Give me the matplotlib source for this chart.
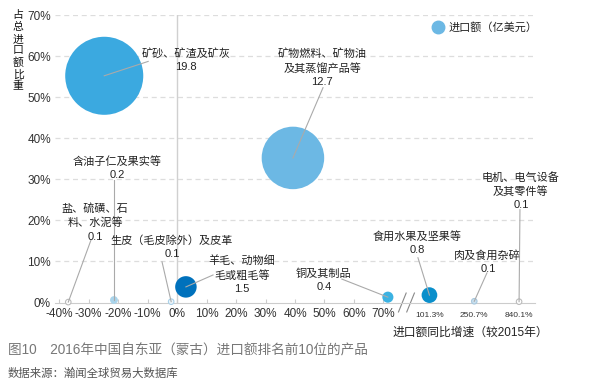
import numpy as np
import matplotlib.pyplot as plt
from matplotlib.lines import Line2D

plt.rcParams['font.family'] = ['Liberation Sans', 'Noto Sans CJK SC']

###data###
names = ['矿砂、矿渣及矿灰', '矿物燃料、矿物油\n及其蒸馏产品等', '含油子仁及果实等',
         '盐、硫磺、石\n料、水泥等', '生皮（毛皮除外）及皮革', '羊毛、动物细\n毛或粗毛等',
         '铜及其制品', '食用水果及坚果等', '肉及食用杂碎', '电机、电气设备\n及其零件等']
growth = [-24.7, 39.3, -21.4, -36.9, -2.0, 3.0, 71.5, 101.3, 250.7, 840.1]   # %
share = [55.2, 35.2, 0.6, 0.1, 0.2, 3.8, 1.3, 1.8, 0.3, 0.2]                  # %
value = [19.8, 12.7, 0.2, 0.1, 0.1, 1.5, 0.4, 0.8, 0.1, 0.1]                   # 亿美元

xticks = [-40, -30, -20, -10, 0, 10, 20, 30, 40, 50, 60, 70]
yticks = [0, 10, 20, 30, 40, 50, 60, 70]

###style###
face = ['#3BA9E0', '#6CB8E4', '#A9D4EB', '#FFFFFF', '#EEF6FB',
        '#0071BC', '#3BB2E2', '#0A8FCB', '#C9E0EF', '#FFFFFF']
edge = ['none', 'none', 'none', '#BBBBBB', '#A8D0E8',
        'none', 'none', 'none', '#A8C8DE', '#BBBBBB']
# label centre and leader end, in axis units
label_xy = [(3.0, 59.1), (49.2, 57.2), (-20.3, 32.8), (-27.8, 19.5), (-1.7, 13.4),
            (22.0, 6.8), (49.8, 5.4), (81.4, 14.4), (105.4, 9.9), (116.6, 27.1)]
lead_xy = [(-9.8, 58.7), (49.5, 52.3), (-21.4, 29.9), (-29.2, 15.2), (-5.1, 9.9),
           (12.2, 6.7), (55.9, 5.7), (81.7, 10.9), (105.1, 7.2), (116.3, 22.6)]

###broken x axis: values beyond the break go to equal slots###
brk = 78
slots = [85.6, 100.8, 116.0]
big = sorted(g for g in growth if g > brk)
xpos = np.array([g if g <= brk else slots[big.index(g)] for g in growth])

fig = plt.figure(figsize=(5.94, 3.86), dpi=100)
ax = fig.add_axes([55/594, 1-302.5/386, 480/594, 287.5/386])
ax.set_xlim(-41.4, 121.4)
ax.set_ylim(0, 70)

for y in yticks[1:]:
    ax.axhline(y, color='#DDDDDD', lw=0.9, ls=(0, (4, 3)), zorder=0)
ax.axvline(0, color='#D0D0D0', lw=1, zorder=0)

sizes = np.array(value) * 159.5
ax.scatter(xpos, share, s=sizes, c=face, edgecolors=edge, linewidths=0.8,
           zorder=3, clip_on=False)

for i in range(len(names)):
    lx, ly = lead_xy[i]
    ax.plot([xpos[i], lx], [share[i], ly], color='#AAAAAA', lw=0.8, zorder=4,
            clip_on=False)
    tx, ty = label_xy[i]
    ax.text(tx, ty, names[i] + '\n' + f'{value[i]}', ha='center', va='center',
            fontsize=8, color='#222222', linespacing=1.4, zorder=5)

# axes
for s in ['top', 'right', 'left']:
    ax.spines[s].set_visible(False)
ax.spines['bottom'].set_color('#CCCCCC')
ax.set_yticks(yticks)
ax.set_yticklabels([f'{y}%' for y in yticks], fontsize=8.5, color='#333333')
ax.tick_params(axis='y', length=0, pad=3)
ax.set_xticks(xticks + slots)
ax.set_xticklabels([f'{x}%' for x in xticks] + [f'{g}%' for g in big], fontsize=8.5,
                   color='#333333')
for lab in ax.get_xticklabels()[len(xticks):]:
    lab.set_fontsize(6)
    lab.set_y(-0.015)
ax.tick_params(axis='x', direction='in', length=3, color='#CCCCCC', pad=4)

# break mark
for dx in [76.4, 79.2]:
    ax.plot([dx - 1.3, dx + 1.3], [-2.3, 2.3], color='#888888', lw=0.8, clip_on=False)

# legend
fig.add_artist(Line2D([438/594], [1-27/386], marker='o', markersize=9,
                      color='#6CB8E4', lw=0))
fig.text(449/594, 1-27/386, '进口额（亿美元）', fontsize=8, va='center', color='#222222')

fig.text(18/594, 1-51/386, '\n'.join('占总进口额比重'), fontsize=7.8, ha='center',
         va='center', linespacing=1.2, color='#111111')
fig.text(470/594, 1-333/386, '进口额同比增速（较2015年）', fontsize=8.5, ha='center',
         va='center', color='#222222')

fig.text(8/594, 1-350/386, '图10　2016年中国自东亚（蒙古）进口额排名前10位的产品',
         fontsize=9.8, va='center', color='#777777')
fig.text(8/594, 1-373/386, '数据来源：瀚闻全球贸易大数据库', fontsize=8.2, va='center',
         color='#555555')

plt.savefig('out.png', dpi=100)
